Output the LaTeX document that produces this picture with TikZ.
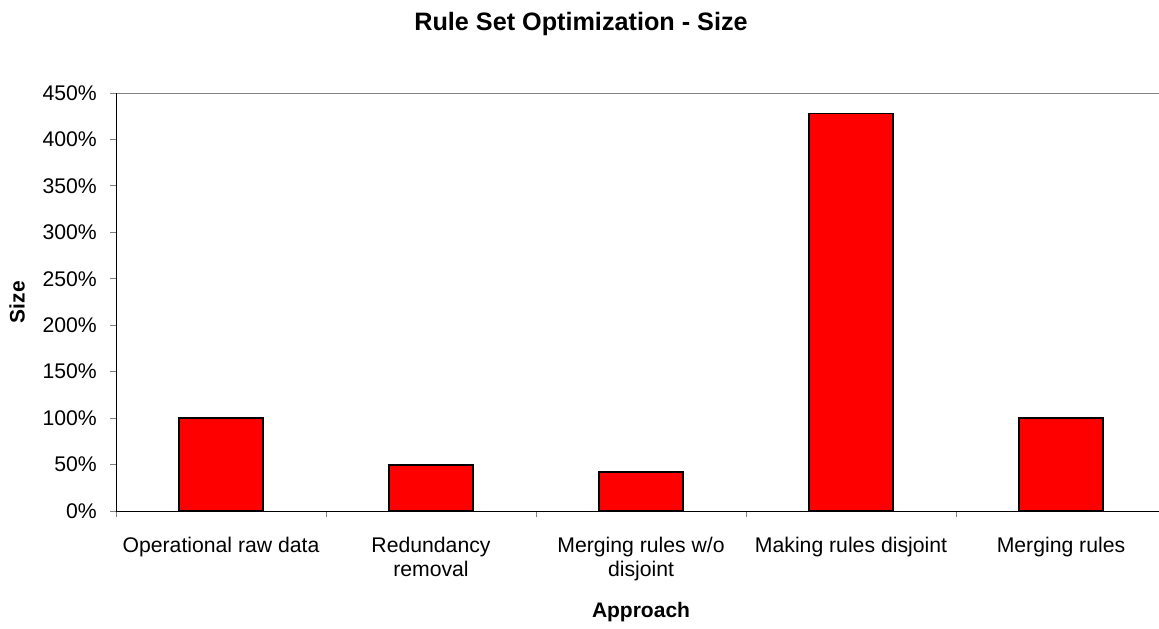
\documentclass[tikz,border=0pt]{standalone}
\usepackage{fontspec}
\setmainfont{Liberation Sans}
\definecolor{barred}{RGB}{255,0,0}
\definecolor{axisgray}{RGB}{128,128,128}
\begin{document}
\begin{tikzpicture}[x=1pt,y=-1pt,
  lab/.style={font=\fontsize{21.2}{24}\selectfont, inner sep=0pt},
  ticklab/.style={lab, anchor=east},
  catlab/.style={lab, anchor=base, align=center},
  axtitle/.style={font=\bfseries\fontsize{21}{24}\selectfont, inner sep=0pt},
  bar/.style={fill=barred, draw=black, line width=1.5pt},
  axisline/.style={draw=black, line width=1pt},
  tickmark/.style={draw=axisgray, line width=1pt}]
\useasboundingbox (0,0) rectangle (1159,629);

% chart title
\node[font=\bfseries\fontsize{25.2}{28}\selectfont, inner sep=0pt, anchor=base] (title) at (581,30) {Rule Set Optimization - Size};

% plot frame corners
\coordinate (origin) at (116,511);
\coordinate (ytop) at (116,93);
\coordinate (xend) at (1159,511);
\coordinate (ftop) at (1159,93);

% top border of the plot area
\draw[axisgray, line width=1pt] (ytop) -- (ftop);

% bars (value scale: 418 px = 450%)
\foreach \cx/\val/\nm in {221/100/b1, 431/49.6/b2, 641/41.8/b3, 851/428/b4, 1061/100/b5}{
  \path[bar] (\cx-42,511) rectangle (\cx+42,{511-\val*0.928889});
  \coordinate (\nm) at (\cx,511);
}

% y-axis ticks and labels
\foreach \v [evaluate=\v as \yy using {511-\v*418/9}, evaluate=\v as \pct using {int(\v*50)}] in {0,...,9}{
  \coordinate (yt\v) at (116,\yy);
  \draw[tickmark] (yt\v) -- ++(-6,0);
  \node[ticklab] (yl\v) at (97,\yy) {\pct\%};
}

% x-axis ticks between categories
\foreach \i in {0,...,4}{
  \coordinate (xt\i) at ({116+\i*210},511);
  \draw[tickmark] (xt\i) -- ++(0,6);
}

% axes
\draw[axisline] (origin) -- (ytop);
\draw[axisline] (origin) -- (xend);

% category labels (base anchor sits on the last line)
\node[catlab] (c1) at (221,552) {Operational raw data};
\node[catlab] (c2) at (431,576) {Redundancy\\removal};
\node[catlab] (c3) at (641,576) {Merging rules w/o\\disjoint};
\node[catlab] (c4) at (851,552) {Making rules disjoint};
\node[catlab] (c5) at (1061,552) {Merging rules};

% axis titles
\node[axtitle, anchor=base] (xtitle) at (641,617) {Approach};
\node[axtitle, rotate=90] (ytitle) at (17,302) {Size};
\end{tikzpicture}
\end{document}
